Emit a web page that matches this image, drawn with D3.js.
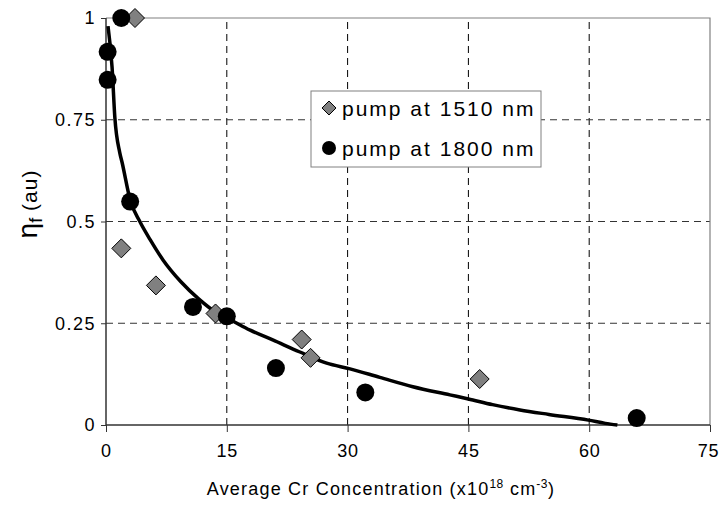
<!DOCTYPE html>
<html><head><meta charset="utf-8">
<script src="https://cdn.jsdelivr.net/npm/d3@7"></script>
<style>body{margin:0;background:#fff}svg{display:block;font-family:Arial,"Liberation Sans",sans-serif}</style>
</head><body>
<svg id="c" width="720" height="517"></svg>
<script>
const xTicks = [0, 15, 30, 45, 60, 75];
const yTicks = [0, 0.25, 0.5, 0.75, 1];
const yTickLabels = ["0", "0.25", "0.5", "0.75", "1"];
const pump1510 = [[3.6,1.0],[1.9,0.434],[6.2,0.343],[13.6,0.274],[24.3,0.21],[25.4,0.165],[46.4,0.113]];
const pump1800 = [[1.9,1.0],[0.2,0.917],[0.2,0.848],[3.0,0.549],[10.8,0.29],[15.0,0.267],[21.1,0.14],[32.2,0.08],[65.9,0.017]];
const fitCurve = [[0.25,0.98],[0.75,0.88],[1.1,0.755],[1.7,0.67],[2.0,0.645],[3.0,0.553],[4.2,0.5],[5.5,0.455],[7.1,0.405],[9.3,0.352],[11.5,0.31],[13.8,0.275],[15.5,0.258],[17.9,0.233],[20.7,0.209],[24,0.18],[27.4,0.152],[30.3,0.138],[34,0.117],[38.1,0.094],[42.7,0.074],[45,0.064],[48,0.05],[51.4,0.037],[55,0.026],[59.9,0.012],[62,0.004],[63.5,0.0]];
const legendLabels = ["pump at 1510 nm", "pump at 1800 nm"];

const svg = d3.select("#c");
const x = d3.scaleLinear().domain([0,75]).range([106,710]);
const y = d3.scaleLinear().domain([0,1]).range([425,18]);

// grid
const g = svg.append("g");
g.selectAll("line.gx").data(xTicks.filter(d=>d>0&&d<75)).join("line")
  .attr("x1",d=>x(d)).attr("x2",d=>x(d)).attr("y1",y(0)).attr("y2",y(1))
  .attr("stroke","#000").attr("stroke-width",1).attr("stroke-dasharray","7,5");
g.selectAll("line.gy").data(yTicks.filter(d=>d>0&&d<1)).join("line")
  .attr("y1",d=>y(d)).attr("y2",d=>y(d)).attr("x1",x(0)).attr("x2",x(75))
  .attr("stroke","#333").attr("stroke-width",1).attr("stroke-dasharray","7,5");
// top/right border
svg.append("path").attr("d",`M${x(0)},${y(1)}H${x(75)}V${y(0)}`).attr("fill","none").attr("stroke","#808080").attr("stroke-width",1.2);

// axes
const xAxis = svg.append("g").attr("transform",`translate(0,${y(0)})`)
  .call(d3.axisBottom(x).tickValues(xTicks).tickSize(7).tickPadding(12).tickFormat(d3.format("d")));
const yAxis = svg.append("g").attr("transform",`translate(${x(0)},0)`)
  .call(d3.axisLeft(y).tickValues(yTicks).tickSize(5).tickPadding(7).tickFormat((d,i)=>yTickLabels[i]));
[xAxis,yAxis].forEach(a=>{
  a.select(".domain").attr("stroke","#333").attr("stroke-width",1.5);
  a.selectAll(".tick line").attr("stroke","#333");
  a.selectAll("text").attr("font-size",18).attr("letter-spacing",1.5).attr("fill","#000").attr("font-family","Arial, 'Liberation Sans', sans-serif");
});
xAxis.selectAll("text").attr("letter-spacing",0.8).attr("dx",d=>d===75?-2:0);
yAxis.selectAll("text").attr("dx",2);
yAxis.select(".domain").attr("d",`M0,${y(1)}V${y(0)}`);
xAxis.select(".domain").attr("d",`M${x(0)},0H${x(75)}`);

// curve
svg.append("path").datum(fitCurve)
  .attr("d",d3.line().x(d=>x(d[0])).y(d=>y(d[1])).curve(d3.curveMonotoneX))
  .attr("fill","none").attr("stroke","#000").attr("stroke-width",3.5);

// diamonds
const diamond = (cx,cy,r)=>`M${cx},${cy-r}L${cx+r},${cy}L${cx},${cy+r}L${cx-r},${cy}Z`;
svg.append("g").selectAll("path").data(pump1510).join("path")
  .attr("d",d=>diamond(x(d[0]),y(d[1]),9.5)).attr("fill","#808080").attr("stroke","#000").attr("stroke-width",1);
// circles
svg.append("g").selectAll("circle").data(pump1800).join("circle")
  .attr("cx",d=>x(d[0])).attr("cy",d=>y(d[1])).attr("r",9).attr("fill","#000");

// legend
const lg = svg.append("g");
lg.append("rect").attr("x",311).attr("y",91).attr("width",230).attr("height",76)
  .attr("fill","#fff").attr("stroke","#808080").attr("stroke-width",1);
lg.append("path").attr("d",diamond(329,108,7)).attr("fill","#808080").attr("stroke","#000").attr("stroke-width",1);
lg.append("circle").attr("cx",329).attr("cy",148).attr("r",7).attr("fill","#000");
lg.selectAll("text").data(legendLabels).join("text")
  .attr("x",342).attr("y",(d,i)=>115.5+i*40).attr("font-size",21).attr("letter-spacing",2).text(d=>d);

// x label
const xl = svg.append("text").attr("x",381).attr("y",495).attr("text-anchor","middle").attr("font-size",18).attr("letter-spacing",1.2);
xl.append("tspan").text("Average Cr Concentration (x10");
xl.append("tspan").attr("font-size",12).attr("dy",-7).attr("letter-spacing",0.5).text("18");
xl.append("tspan").attr("dy",7).text(" cm");
xl.append("tspan").attr("font-size",12).attr("dy",-7).attr("letter-spacing",0.5).text("-3");
xl.append("tspan").attr("dy",7).text(")");

// y label
const yl = svg.append("text").attr("transform","translate(37,204) rotate(-90)").attr("text-anchor","middle").attr("font-size",21);
yl.append("tspan").attr("font-size",28).text("η");
yl.append("tspan").attr("font-size",18).attr("dy",5).text("f");
yl.append("tspan").attr("dy",-5).attr("letter-spacing",1).text("  (au)");
</script>
</body></html>
